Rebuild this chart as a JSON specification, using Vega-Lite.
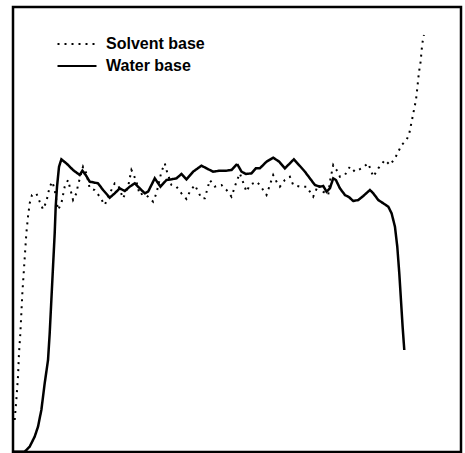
{
  "$schema": "https://vega.github.io/schema/vega-lite/v6.json",
  "width": 448,
  "height": 445,
  "autosize": {"type": "none"},
  "padding": {"left": 13, "top": 7, "right": 4, "bottom": 1},
  "background": "white",
  "config": {
    "view": {"stroke": "black", "strokeWidth": 2.5},
    "font": "Liberation Sans"
  },
  "datasets": {
    "water": [
      {"x":0,"y":1},{"x":35,"y":1},{"x":50,"y":16},{"x":65,"y":46},{"x":75,"y":76},{"x":85,"y":126},{"x":95,"y":206},{"x":105,"y":276},{"x":110,"y":356},{"x":115,"y":456},{"x":120,"y":556},{"x":125,"y":656},{"x":128,"y":736},{"x":132,"y":796},{"x":138,"y":856},{"x":145,"y":878},{"x":160,"y":866},{"x":180,"y":846},{"x":200,"y":831},{"x":208,"y":844},{"x":218,"y":831},{"x":230,"y":811},{"x":245,"y":808},{"x":255,"y":806},{"x":270,"y":786},{"x":290,"y":763},{"x":305,"y":776},{"x":320,"y":791},{"x":335,"y":783},{"x":350,"y":796},{"x":365,"y":806},{"x":380,"y":791},{"x":395,"y":776},{"x":405,"y":781},{"x":425,"y":821},{"x":442,"y":796},{"x":460,"y":816},{"x":475,"y":818},{"x":490,"y":821},{"x":505,"y":834},{"x":520,"y":818},{"x":540,"y":841},{"x":565,"y":859},{"x":580,"y":851},{"x":600,"y":841},{"x":620,"y":844},{"x":640,"y":844},{"x":655,"y":846},{"x":672,"y":864},{"x":685,"y":841},{"x":698,"y":834},{"x":715,"y":836},{"x":728,"y":851},{"x":740,"y":851},{"x":760,"y":871},{"x":780,"y":883},{"x":798,"y":871},{"x":815,"y":851},{"x":830,"y":866},{"x":842,"y":878},{"x":860,"y":858},{"x":875,"y":841},{"x":890,"y":821},{"x":905,"y":801},{"x":920,"y":796},{"x":930,"y":798},{"x":940,"y":781},{"x":950,"y":791},{"x":960,"y":821},{"x":968,"y":816},{"x":980,"y":791},{"x":995,"y":771},{"x":1008,"y":764},{"x":1020,"y":753},{"x":1035,"y":756},{"x":1050,"y":768},{"x":1070,"y":786},{"x":1080,"y":776},{"x":1095,"y":756},{"x":1110,"y":746},{"x":1125,"y":736},{"x":1135,"y":716},{"x":1145,"y":676},{"x":1152,"y":616},{"x":1158,"y":536},{"x":1163,"y":456},{"x":1168,"y":376},{"x":1173,"y":306}
    ],
    "solvent": [
      {"x":5,"y":96},{"x":10,"y":156},{"x":15,"y":226},{"x":18,"y":296},{"x":22,"y":356},{"x":25,"y":416},{"x":28,"y":476},{"x":32,"y":536},{"x":36,"y":596},{"x":40,"y":656},{"x":45,"y":706},{"x":50,"y":746},{"x":57,"y":771},{"x":70,"y":776},{"x":80,"y":751},{"x":90,"y":728},{"x":100,"y":751},{"x":110,"y":796},{"x":118,"y":811},{"x":125,"y":786},{"x":135,"y":726},{"x":145,"y":746},{"x":155,"y":796},{"x":165,"y":816},{"x":175,"y":776},{"x":180,"y":756},{"x":190,"y":776},{"x":195,"y":801},{"x":210,"y":856},{"x":220,"y":836},{"x":230,"y":791},{"x":245,"y":786},{"x":260,"y":766},{"x":275,"y":741},{"x":290,"y":776},{"x":305,"y":806},{"x":315,"y":801},{"x":330,"y":761},{"x":345,"y":796},{"x":355,"y":846},{"x":360,"y":836},{"x":370,"y":811},{"x":380,"y":771},{"x":390,"y":776},{"x":405,"y":766},{"x":420,"y":751},{"x":430,"y":776},{"x":445,"y":841},{"x":455,"y":866},{"x":460,"y":846},{"x":475,"y":801},{"x":490,"y":796},{"x":505,"y":776},{"x":520,"y":759},{"x":530,"y":781},{"x":545,"y":801},{"x":565,"y":761},{"x":575,"y":761},{"x":590,"y":816},{"x":605,"y":796},{"x":625,"y":801},{"x":640,"y":786},{"x":655,"y":766},{"x":670,"y":811},{"x":680,"y":836},{"x":700,"y":781},{"x":710,"y":801},{"x":730,"y":811},{"x":740,"y":801},{"x":750,"y":786},{"x":760,"y":771},{"x":780,"y":831},{"x":790,"y":811},{"x":800,"y":796},{"x":815,"y":816},{"x":830,"y":826},{"x":840,"y":801},{"x":860,"y":796},{"x":880,"y":796},{"x":900,"y":766},{"x":915,"y":801},{"x":930,"y":781},{"x":945,"y":771},{"x":950,"y":811},{"x":955,"y":836},{"x":960,"y":861},{"x":970,"y":846},{"x":980,"y":826},{"x":995,"y":831},{"x":1010,"y":856},{"x":1025,"y":841},{"x":1045,"y":851},{"x":1065,"y":866},{"x":1080,"y":826},{"x":1095,"y":851},{"x":1115,"y":876},{"x":1130,"y":861},{"x":1145,"y":881},{"x":1155,"y":901},{"x":1165,"y":921},{"x":1180,"y":936},{"x":1188,"y":956},{"x":1192,"y":976},{"x":1198,"y":1006},{"x":1203,"y":1031},{"x":1208,"y":1056},{"x":1212,"y":1091},{"x":1215,"y":1121},{"x":1218,"y":1146},{"x":1222,"y":1171},{"x":1225,"y":1206},{"x":1228,"y":1231},{"x":1232,"y":1251}
    ]
  },
  "layer": [
    {
      "data": {"name": "solvent"},
      "transform": [{"calculate": "'Solvent base'", "as": "series"}],
      "mark": {"type": "line", "color": "black", "strokeWidth": 2, "clip": true},
      "encoding": {
        "x": {"field": "x", "type": "quantitative", "scale": {"domain": [0, 1343], "nice": false, "zero": false}, "axis": null},
        "y": {"field": "y", "type": "quantitative", "scale": {"domain": [0, 1335], "nice": false, "zero": false}, "axis": null},
        "strokeDash": {
          "field": "series", "type": "nominal",
          "scale": {"domain": ["Solvent base", "Water base"], "range": [[2, 5], [1, 0]]},
          "legend": {
            "title": null,
            "orient": "none",
            "legendX": 56,
            "legendY": 29,
            "padding": 0,
            "symbolType": "M-4,0H4",
            "symbolSize": 95,
            "symbolStrokeWidth": 2,
            "symbolStrokeColor": "black",
            "labelFont": "Liberation Sans",
            "labelFontSize": 16,
            "labelFontWeight": "bold",
            "labelColor": "black",
            "labelOffset": 21,
            "rowPadding": 6
          }
        }
      }
    },
    {
      "data": {"name": "water"},
      "transform": [{"calculate": "'Water base'", "as": "series"}],
      "mark": {"type": "line", "color": "black", "strokeWidth": 2.5, "clip": true},
      "encoding": {
        "x": {"field": "x", "type": "quantitative", "scale": {"domain": [0, 1343], "nice": false, "zero": false}},
        "y": {"field": "y", "type": "quantitative", "scale": {"domain": [0, 1335], "nice": false, "zero": false}},
        "strokeDash": {"field": "series", "type": "nominal"}
      }
    }
  ]
}
